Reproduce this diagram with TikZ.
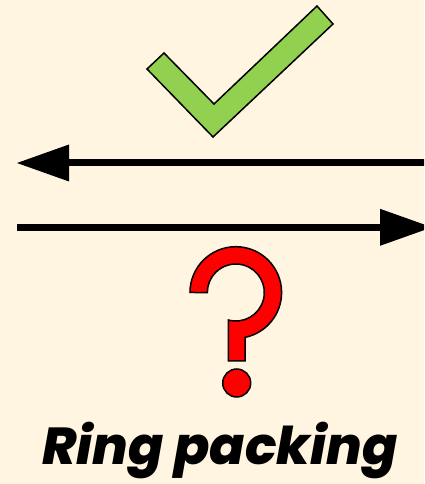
\documentclass[tikz,border=0pt]{standalone}
\usepackage{fontspec}
\setmainfont{Poppins}
\newfontfamily\titlefont{Poppins ExtraBold Italic}
\definecolor{bgcream}{HTML}{FFF5E1}
\definecolor{checkgreen}{HTML}{92D050}
\definecolor{qred}{HTML}{FF0000}
\begin{document}
\begin{tikzpicture}[x=1pt,y=1pt,
  outlined/.style={draw=black,line width=1.5pt,line join=miter},
  shaft/.style={draw=black,line width=7pt},
  headtri/.style={fill=black},
  title/.style={font=\fontsize{52}{52}\selectfont\titlefont,inner sep=0pt,anchor=base}]
\fill[bgcream] (0,0) rectangle (424,484);
\clip (0,0) rectangle (424,484);
% check mark
\path[outlined,fill=checkgreen] (164,431) -- (214,380) -- (317,478) -- (333,460) -- (213,347) -- (147,415) -- cycle;
% top arrow (pointing left)
\coordinate (t1) at (430,321);
\coordinate (t2) at (66,321);
\coordinate (ttip) at (17,321);
\coordinate (tb1) at (69,339.5);
\coordinate (tb2) at (69,302.5);
\draw[shaft] (t1) -- (t2);
\fill[headtri] (ttip) -- (tb1) -- (tb2) -- cycle;
% bottom arrow (pointing right)
\coordinate (b1) at (17,256.7);
\coordinate (b2) at (383,256.7);
\coordinate (btip) at (432,256.7);
\coordinate (bb1) at (380,275.2);
\coordinate (bb2) at (380,238.2);
\draw[shaft] (b1) -- (b2);
\fill[headtri] (btip) -- (bb1) -- (bb2) -- cycle;
% question mark
\coordinate (qc) at (235.8,191.5);
\path[outlined,fill=qred] ([shift={(180:45.8)}]qc) arc[start angle=180,end angle=-78.4,radius=45.8]
  -- (245,123) -- (228.3,123) -- (228.3,164)
  arc[start angle=-105.3,end angle=180,radius=28.5] -- cycle;
\node[outlined,fill=qred,circle,minimum size=28pt,inner sep=0pt] (dot) at (236.7,101) {};
% title
\node[title] (ttl) at (220,19) {Ring packing};
\end{tikzpicture}
\end{document}
